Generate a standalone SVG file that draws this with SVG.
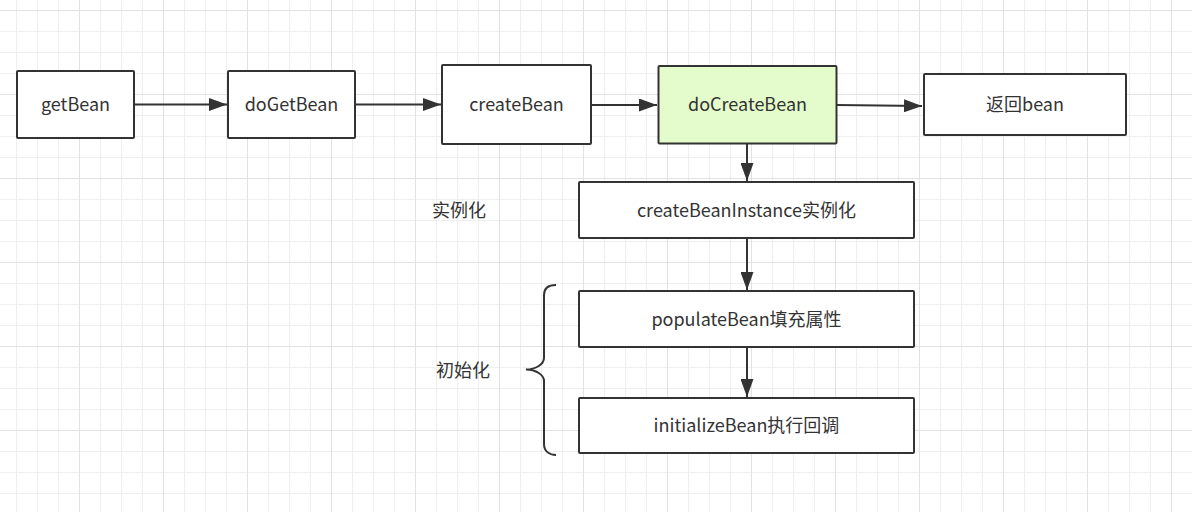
<svg xmlns="http://www.w3.org/2000/svg" width="1192" height="512" viewBox="0 0 1192 512">
<style>
.box{fill:#ffffff;stroke:#333333;stroke-width:2}
.hl{fill:#e4fccc}
.lbl{font-family:"Microsoft YaHei","Noto Sans CJK SC","Noto Sans",sans-serif;font-size:18px;fill:#333333;text-anchor:middle;dominant-baseline:central}
.conn{stroke:#333333;stroke-width:2;fill:none}
</style>
<defs>
<pattern id="grid" x="79" y="10" width="84" height="84" patternUnits="userSpaceOnUse">
<path d="M21.5 0V84M42.5 0V84M63.5 0V84M0 21.5H84M0 42.5H84M0 63.5H84" stroke="#efefef" stroke-width="1" fill="none"/>
<path d="M0.5 0V84M0 0.5H84" stroke="#e2e2e2" stroke-width="1" fill="none"/>
</pattern>
<marker id="arr" markerUnits="userSpaceOnUse" markerWidth="18" markerHeight="13" refX="18" refY="6.5" orient="auto">
<path d="M0 0L18 6.5L0 13Z" fill="#333333"/>
</marker>
</defs>
<rect width="1192" height="512" fill="#ffffff"/>
<rect width="1192" height="512" fill="url(#grid)"/>
<g id="connectors">
<line class="conn" x1="134" y1="104.5" x2="227" y2="104.5" marker-end="url(#arr)"/>
<line class="conn" x1="355" y1="104.5" x2="441" y2="104.5" marker-end="url(#arr)"/>
<line class="conn" x1="591" y1="105" x2="657" y2="105" marker-end="url(#arr)"/>
<line class="conn" x1="837" y1="105" x2="922" y2="106" marker-end="url(#arr)"/>
<line class="conn" x1="747" y1="144" x2="747" y2="181" marker-end="url(#arr)"/>
<line class="conn" x1="747" y1="238" x2="747" y2="290" marker-end="url(#arr)"/>
<line class="conn" x1="747" y1="347" x2="747" y2="397" marker-end="url(#arr)"/>
</g>
<g id="getBean"><rect class="box" x="17" y="71" width="117" height="67" rx="1"/><text class="lbl" x="75.5" y="103">getBean</text></g>
<g id="doGetBean"><rect class="box" x="228" y="71" width="127" height="67" rx="1"/><text class="lbl" x="291.5" y="103">doGetBean</text></g>
<g id="createBean"><rect class="box" x="442" y="65" width="149" height="79" rx="1"/><text class="lbl" x="516.5" y="103">createBean</text></g>
<g id="doCreateBean"><rect class="box hl" x="658.5" y="66" width="178" height="77.5" rx="1"/><text class="lbl" x="747.5" y="103">doCreateBean</text></g>
<g id="returnBean"><rect class="box" x="924" y="74" width="202" height="61" rx="1"/><text class="lbl" x="1025" y="103">返回bean</text></g>
<g id="createBeanInstance"><rect class="box" x="579" y="182" width="335" height="56" rx="1"/><text class="lbl" x="746.5" y="208.5">createBeanInstance实例化</text></g>
<g id="populateBean"><rect class="box" x="579" y="291" width="335" height="56" rx="1"/><text class="lbl" x="746.5" y="317.5">populateBean填充属性</text></g>
<g id="initializeBean"><rect class="box" x="579" y="398" width="335" height="55" rx="1"/><text class="lbl" x="746.5" y="424">initializeBean执行回调</text></g>
<g id="label-instantiate"><text class="lbl" x="459" y="209">实例化</text></g>
<g id="label-init"><text class="lbl" x="463" y="369">初始化</text></g>
<g id="brace"><path class="conn" d="M556 285C549 285 544 288 544 295V358C544 364 536 369.5 526 369.5C536 369.5 544 375 544 381V444C544 451 549 455 556 455"/></g>
</svg>
